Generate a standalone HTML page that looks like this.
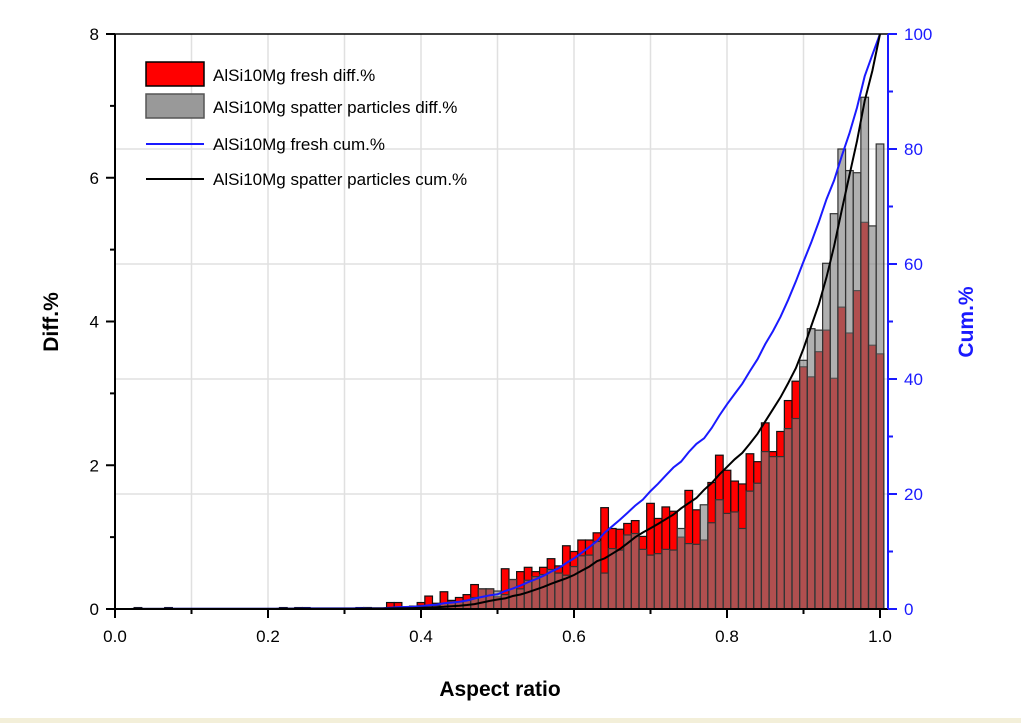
<!DOCTYPE html>
<html><head><meta charset="utf-8"><style>
body{margin:0;background:#fff;}
svg{display:block;font-family:"Liberation Sans",Arial,sans-serif;}
</style></head><body>
<svg id="chart" width="1021" height="723" viewBox="0 0 1021 723">
<rect x="0" y="718" width="1021" height="5" fill="#f3efd9"/>
<g id="grid"></g>
<g id="bars"></g>
<g id="lines"></g>
<g id="axes"></g>
<text x="500" y="696" font-size="21" font-weight="bold" text-anchor="middle">Aspect ratio</text>
<text transform="translate(58,322) rotate(-90)" font-size="21" font-weight="bold" text-anchor="middle">Diff.%</text>
<text transform="translate(973,322) rotate(-90)" font-size="21" font-weight="bold" fill="#1a1aff" text-anchor="middle">Cum.%</text>
<g font-size="17">
<g><rect x="146" y="62" width="58" height="24" fill="#ff0000" stroke="#000" stroke-width="1.5"/><text x="213" y="81">AlSi10Mg fresh diff.%</text></g>
<g><rect x="146" y="94" width="58" height="24" fill="#999" stroke="#555" stroke-width="1.5"/><text x="213" y="113">AlSi10Mg spatter particles diff.%</text></g>
<g><line x1="146" y1="144" x2="204" y2="144" stroke="#1a1aff" stroke-width="2"/><text x="213" y="150">AlSi10Mg fresh cum.%</text></g>
<g><line x1="146" y1="179" x2="204" y2="179" stroke="#000" stroke-width="2"/><text x="213" y="185">AlSi10Mg spatter particles cum.%</text></g>
</g>
</svg>
<script>
const binCenters=[];for(let k=0;k<=100;k++)binCenters.push(k/100);
const freshDiff=[0,0,0,0.02,0,0,0,0.02,0,0, 0,0,0,0,0,0,0,0,0,0, 0,0,0.02,0,0.02,0.02,0,0,0,0, 0,0,0.02,0.02,0,0,0.09,0.09,0.02,0.04, 0.09,0.18,0.08,0.24,0.12,0.16,0.2,0.34,0.28,0.28, 0.17,0.56,0.41,0.52,0.58,0.52,0.58,0.7,0.6,0.88, 0.8,0.96,0.96,1.06,1.41,1.12,1.11,1.19,1.23,1.01, 1.47,1.26,1.42,1.36,1.0,1.65,1.38,0.96,1.76,2.14, 1.93,1.78,1.74,2.16,2.05,2.59,2.19,2.47,2.9,3.17, 3.37,3.23,3.58,3.88,3.21,4.2,3.84,4.43,5.38,3.67,3.55];
const spatterDiff=[0,0,0,0.01,0,0,0,0.01,0,0, 0,0,0,0,0,0,0,0,0,0, 0,0,0.01,0,0.01,0.01,0,0,0,0, 0,0,0.01,0.02,0,0,0.02,0.02,0.01,0.03, 0.05,0.05,0.05,0.08,0.1,0.1,0.12,0.16,0.28,0.28, 0.25,0.2,0.41,0.28,0.4,0.45,0.48,0.55,0.5,0.47, 0.59,0.74,0.75,0.94,0.5,0.84,0.82,1.03,1.05,0.83, 0.75,0.77,0.83,0.82,1.12,0.91,0.9,1.45,1.2,1.52, 1.33,1.35,1.12,1.64,1.75,2.19,2.12,2.12,2.51,2.65, 3.46,3.9,3.88,4.81,5.5,6.4,6.1,6.07,7.12,5.33,6.47];
const xTicks=["0.0","0.2","0.4","0.6","0.8","1.0"];
const yTicks=["0","2","4","6","8"];
const y2Ticks=["0","20","40","60","80","100"];
const X0=115,X1=880,Y0=609,Y8=34,XR=888;
const sx=v=>X0+(X1-X0)*v;
const sy=v=>Y0-(Y0-Y8)*v/8;
const sy2=v=>Y0-(Y0-Y8)*v/100;
const NS="http://www.w3.org/2000/svg";
function mk(t,a,p){const e=document.createElementNS(NS,t);for(const k in a)e.setAttribute(k,a[k]);p.appendChild(e);return e;}
const grid=document.getElementById('grid'),bars=document.getElementById('bars'),lines=document.getElementById('lines'),axes=document.getElementById('axes');
for(let i=1;i<10;i++){const g=mk('line',{x1:sx(i/10),x2:sx(i/10),y1:Y8,y2:Y0,stroke:'#e0e0e0','stroke-width':1.5},grid);

}
for(let i=1;i<5;i++){const g=mk('line',{x1:X0,x2:XR,y1:sy2(i*20),y2:sy2(i*20),stroke:'#e0e0e0','stroke-width':1.5},grid);

}
const bw=(X1-X0)*0.01;
binCenters.forEach((c,i)=>{const v=freshDiff[i];if(v<=0)return;
const r=mk('rect',{x:sx(c)-bw/2,y:sy(v),width:bw,height:Y0-sy(v),fill:'#ff0000',stroke:'#111','stroke-width':1.2},bars);

});
binCenters.forEach((c,i)=>{const v=spatterDiff[i];if(v<=0)return;
const r=mk('rect',{x:sx(c)-bw/2,y:sy(v),width:bw,height:Y0-sy(v),fill:'rgba(128,128,128,0.62)',stroke:'#333','stroke-width':1.2},bars);

});
function cumPath(arr){const tot=arr.reduce((a,b)=>a+b,0);let s=0;let d='M'+sx(0)+','+sy2(0);
arr.forEach((v,i)=>{s+=v;d+=' L'+sx(binCenters[i]).toFixed(1)+','+sy2(s/tot*100).toFixed(1);});return d;}
const pf=mk('path',{d:cumPath(freshDiff),fill:'none',stroke:'#1a1aff','stroke-width':2},lines);


const ps=mk('path',{d:cumPath(spatterDiff),fill:'none',stroke:'#000','stroke-width':2},lines);


mk('line',{x1:X0,x2:XR,y1:Y8,y2:Y8,stroke:'#000','stroke-width':1.5},axes);
mk('line',{x1:X0,x2:X0,y1:Y8,y2:Y0+8,stroke:'#000','stroke-width':2},axes);
mk('line',{x1:X0-8,x2:XR,y1:Y0,y2:Y0,stroke:'#000','stroke-width':2},axes);
mk('line',{x1:XR,x2:XR,y1:Y8,y2:Y0,stroke:'#1a1aff','stroke-width':2},axes);
for(let i=0;i<=10;i++){mk('line',{x1:sx(i/10),x2:sx(i/10),y1:Y0,y2:Y0+(i%2?5:9),stroke:'#000','stroke-width':2},axes);}
xTicks.forEach((t,i)=>{const e=mk('text',{x:sx(i*0.2),y:Y0+33,'font-size':17,'text-anchor':'middle'},axes);e.textContent=t;

});
for(let i=0;i<=8;i++){mk('line',{x1:X0-(i%2?5:9),x2:X0,y1:sy(i),y2:sy(i),stroke:'#000','stroke-width':2},axes);}
yTicks.forEach((t,i)=>{const e=mk('text',{x:X0-16,y:sy(i*2)+6,'font-size':17,'text-anchor':'end'},axes);e.textContent=t;

});
for(let i=0;i<=10;i++){mk('line',{x1:XR,x2:XR+(i%2?5:9),y1:sy2(i*10),y2:sy2(i*10),stroke:'#1a1aff','stroke-width':2},axes);}
y2Ticks.forEach((t,i)=>{const e=mk('text',{x:XR+16,y:sy2(i*20)+6,'font-size':17,fill:'#1a1aff'},axes);e.textContent=t;

});
</script>
</body></html>
